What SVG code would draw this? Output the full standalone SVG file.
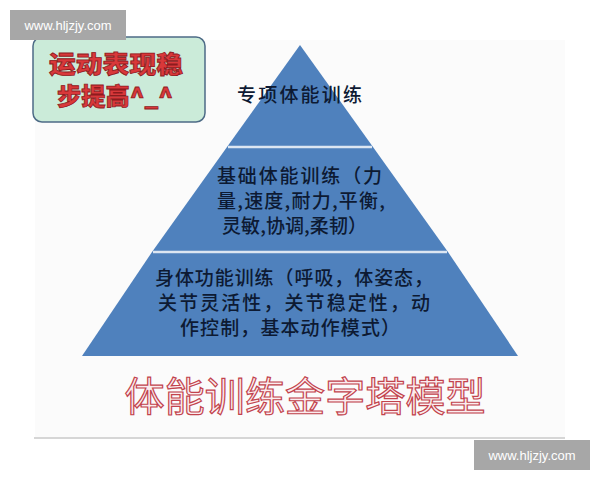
<svg xmlns="http://www.w3.org/2000/svg" width="600" height="480" viewBox="0 0 600 480">
<style>
.wm-bg{fill:#a7a7a7}
.wm-tx{fill:#ffffff;font-family:"Liberation Sans",Arial,sans-serif;font-size:13px;text-anchor:middle}
.tier{fill:#4f81bd}
.div{stroke:#dce6f2;stroke-width:2.5;fill:none}
.lbl{fill:#0d1a33;font-family:"Noto Sans CJK SC","Noto Sans",sans-serif;font-size:19px;font-weight:500}
.callout{fill:#cbebd9;stroke:#4d6b86;stroke-width:1.5}
.ctx{fill:#d9383a;stroke:#8e1b1e;stroke-width:0.8;font-family:"Noto Sans CJK SC",sans-serif;font-size:24px;font-weight:900}
.title{fill:#fbecee;stroke:#c2434d;stroke-width:1.2;font-family:"Noto Sans CJK SC",sans-serif;font-size:40px;font-weight:400;text-anchor:middle}
</style>
<rect x="0" y="0" width="600" height="480" fill="#ffffff"/>
<rect x="35" y="40" width="530" height="397" fill="#fbfbfb"/>
<line x1="34" y1="438" x2="565" y2="438" stroke="#c9c9c9" stroke-width="1.5"/>

<g id="pyramid">
  <g id="tier-top">
    <polygon class="tier" points="300,45 227,147 373,147"/>
    <text class="lbl" x="237" y="102" textLength="125" lengthAdjust="spacing">专项体能训练</text>
  </g>
  <g id="tier-middle">
    <polygon class="tier" points="227,147 373,147 448,252 152,252"/>
    <text class="lbl" x="217" y="183" textLength="165" lengthAdjust="spacing">基础体能训练（力</text>
    <text class="lbl" x="217" y="208" textLength="168" lengthAdjust="spacing">量,速度,耐力,平衡,</text>
    <text class="lbl" x="222" y="233" textLength="145" lengthAdjust="spacing">灵敏,协调,柔韧）</text>
  </g>
  <g id="tier-base">
    <polygon class="tier" points="152,252 448,252 518,356 82,356"/>
    <text class="lbl" x="155" y="285" textLength="278" lengthAdjust="spacing">身体功能训练（呼吸，体姿态，</text>
    <text class="lbl" x="158" y="310" textLength="272" lengthAdjust="spacing">关节灵活性，关节稳定性，动</text>
    <text class="lbl" x="180" y="335" textLength="220" lengthAdjust="spacing">作控制，基本动作模式）</text>
  </g>
  <line class="div" x1="228" y1="147" x2="372" y2="147"/>
  <line class="div" x1="153" y1="252" x2="447" y2="252"/>
</g>

<g id="connectors"></g>

<g id="callout">
  <rect class="callout" x="33" y="37" width="172" height="85" rx="9" ry="9"/>
  <text class="ctx" x="49" y="73" textLength="134" lengthAdjust="spacingAndGlyphs">运动表现稳</text>
  <text class="ctx" x="57" y="105" textLength="116" lengthAdjust="spacingAndGlyphs">步提高^_^</text>
</g>

<g id="title">
  <text class="title" x="305" y="411" textLength="361" lengthAdjust="spacing">体能训练金字塔模型</text>
</g>

<g id="watermark-top">
  <rect class="wm-bg" x="10" y="10" width="116" height="30"/>
  <text class="wm-tx" x="68" y="30">www.hljzjy.com</text>
</g>
<g id="watermark-bottom">
  <rect class="wm-bg" x="474" y="440" width="116" height="30"/>
  <text class="wm-tx" x="532" y="460">www.hljzjy.com</text>
</g>
</svg>
